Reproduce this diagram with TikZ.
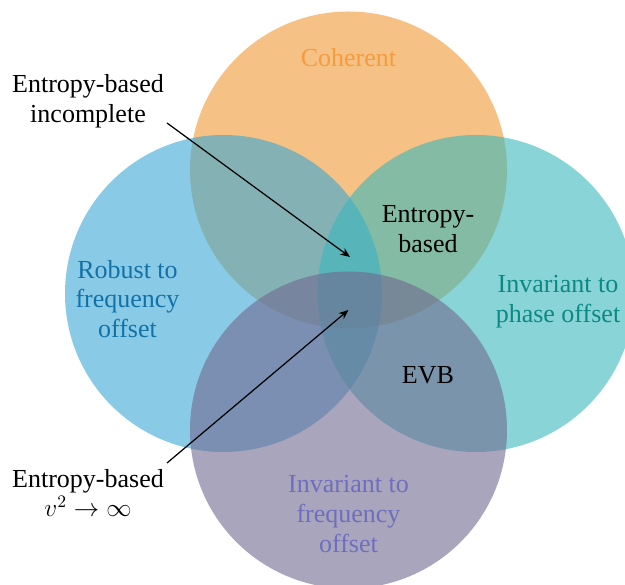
\documentclass[tikz,border=0pt]{standalone}
\usepackage{fontspec}
\setmainfont{Liberation Serif}
\usetikzlibrary{arrows.meta}
\definecolor{cohcolor}{HTML}{EE9832}
\definecolor{robcolor}{HTML}{3AA7D5}
\definecolor{phasecolor}{HTML}{3AB7BC}
\definecolor{freqcolor}{HTML}{70698F}
\definecolor{cohtext}{HTML}{F59C3E}
\definecolor{robtext}{HTML}{1272A8}
\definecolor{phasetext}{HTML}{0C8985}
\definecolor{freqtext}{HTML}{6E6EBE}

\begin{document}
\begin{tikzpicture}[
  venn/.style={circle, minimum size=6.34cm, inner sep=0pt,
               fill opacity=0.6},
  lbl/.style={font=\fontsize{14.8}{17}\selectfont, align=center},
  arrow/.style={-{Stealth[length=5.5pt, width=4.5pt]}, line width=0.7pt},
]
\useasboundingbox (-6.97,-5.7) rectangle (5.53,6.0);

%% Sets
\node[venn, fill=cohcolor]   (coh)   at (0,2.6)      {};
\node[venn, fill=robcolor]   (rob)   at (-2.5,0.13)  {};
\node[venn, fill=phasecolor] (phase) at (2.55,0.13)  {};
\node[venn, fill=freqcolor]  (freq)  at (0,-2.6)     {};

%% Set names
\node[lbl, text=cohtext]   (cohlbl)   at (0,4.84)     {Coherent};
\node[lbl, text=robtext]   (roblbl)   at (-4.42,0.02) {Robust to\\frequency\\offset};
\node[lbl, text=phasetext] (phaselbl) at (4.19,-0.03) {Invariant to\\phase offset};
\node[lbl, text=freqtext]  (freqlbl)  at (0,-4.28)    {Invariant to\\frequency\\offset};

%% Methods in the overlaps
\node[lbl] (entropy) at (1.59,1.42) {Entropy-\\based};
\node[lbl] (evb)     at (1.59,-1.5) {EVB};

%% Methods outside
\node[lbl] (incomp) at (-5.21,3.98)  {Entropy-based\\incomplete};
\node[lbl] (vinf)   at (-5.21,-3.86) {Entropy-based\\$v^2\to\infty$};

%% Arrows
\coordinate (incomp-from) at (-3.63,3.54);
\coordinate (incomp-to)   at (0.03,0.86);
\coordinate (vinf-from)   at (-3.63,-3.26);
\coordinate (vinf-to)     at (0,-0.2);
\draw[arrow] (incomp-from) -- (incomp-to);
\draw[arrow] (vinf-from) -- (vinf-to);

\end{tikzpicture}
\end{document}
